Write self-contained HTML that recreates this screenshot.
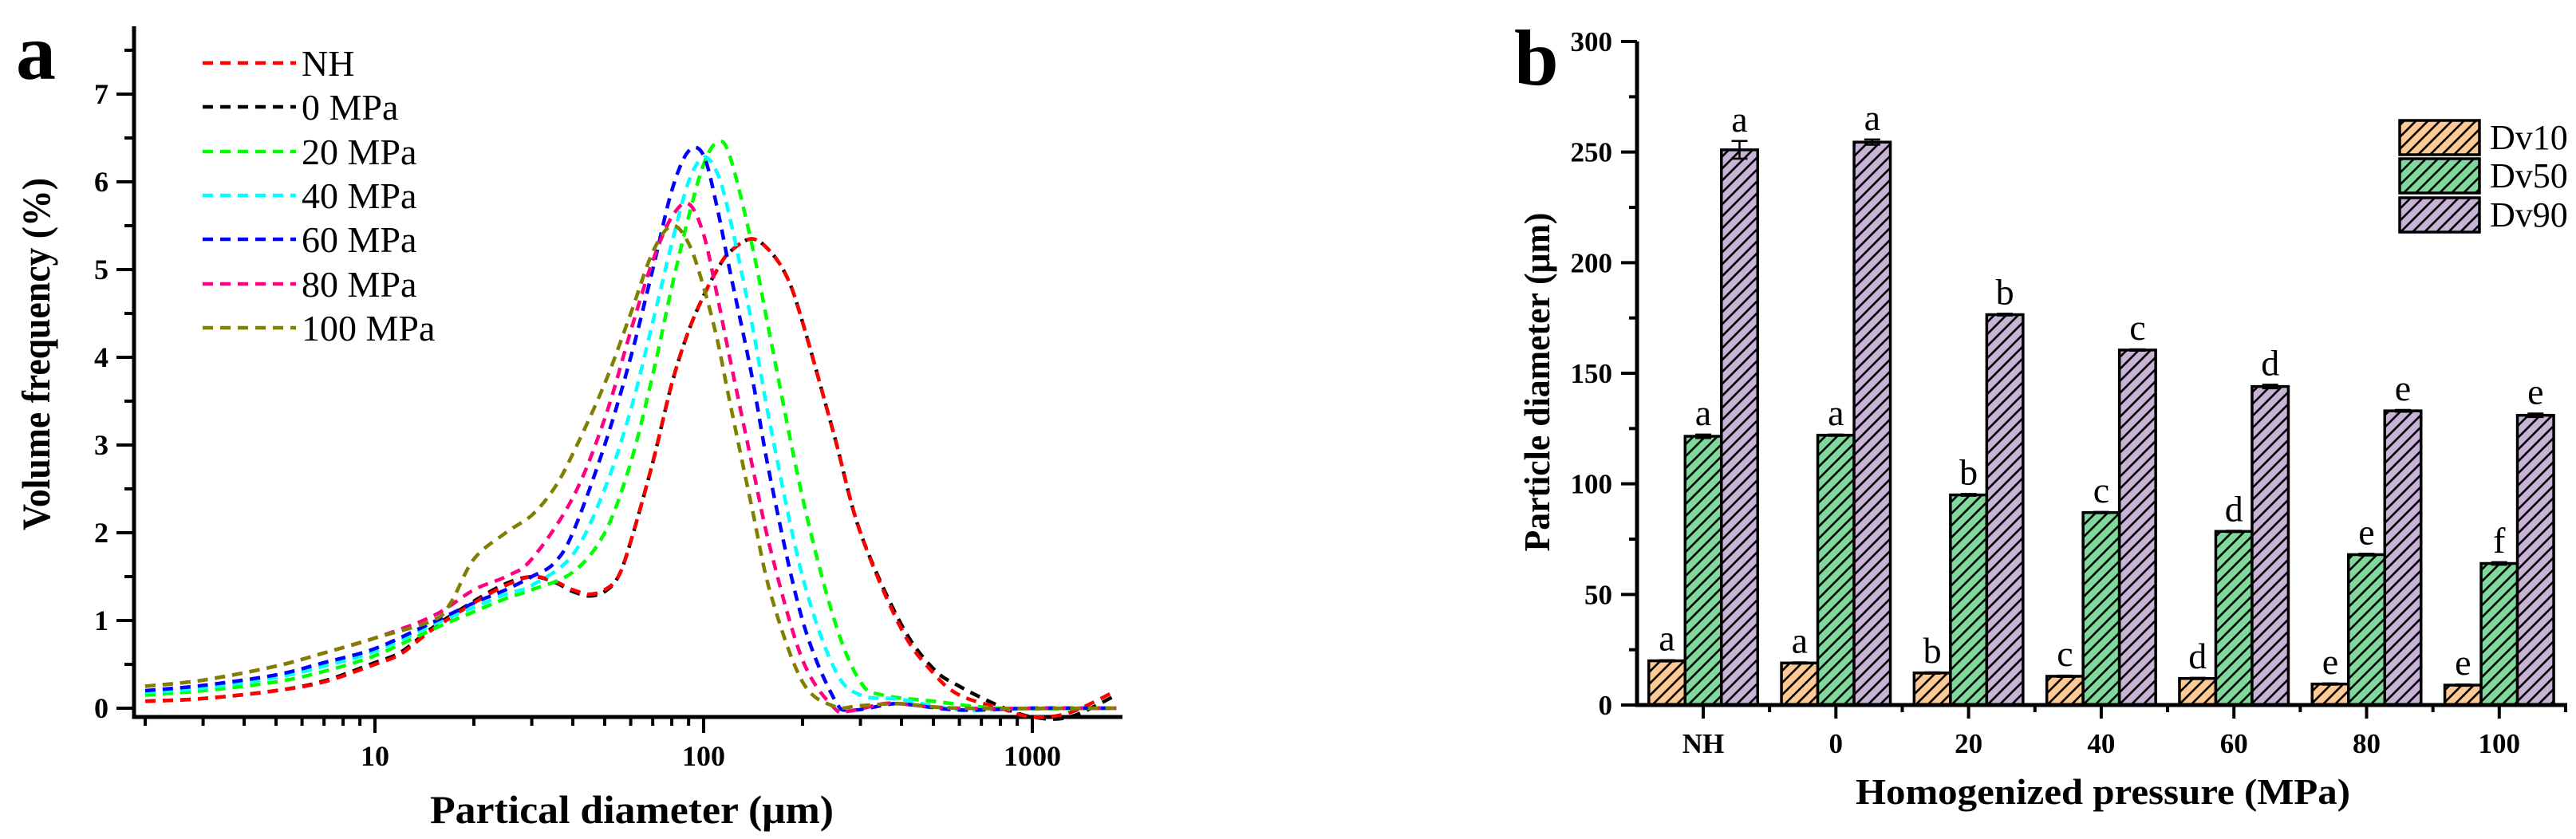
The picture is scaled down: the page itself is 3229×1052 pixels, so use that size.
<!DOCTYPE html>
<html><head><meta charset="utf-8"><style>
html,body{margin:0;padding:0;background:#fff;}
svg{display:block;font-family:"Liberation Serif",serif;}
</style></head><body>
<svg id="fig" xmlns="http://www.w3.org/2000/svg" width="3229" height="1052" viewBox="0 0 3229 1052">
<defs>
<pattern id="hatch" patternUnits="userSpaceOnUse" width="15" height="15">
<path d="M-2,17 L17,-2 M-2,2 L2,-2 M13,17 L17,13" stroke="#000" stroke-width="2.6"/>
</pattern>
</defs>
<g id="left"></g>
<g id="right"></g>
</svg>
<script>
// ---------- Panel a data ----------
const seriesNames = ["0 MPa","NH","20 MPa","40 MPa","60 MPa","80 MPa","100 MPa"];
const legendOrder = ["NH","0 MPa","20 MPa","40 MPa","60 MPa","80 MPa","100 MPa"];
const seriesColors = {"NH":"#ff0000","0 MPa":"#000000","20 MPa":"#00ff00","40 MPa":"#00ffff","60 MPa":"#0000ff","80 MPa":"#ff0080","100 MPa":"#808000"};
const xNH = [2,3,5,7,10,12,15,20,25,30,35,40,45,50,55,60,70,80,90,100,110,120,140,160,180,200,250,300,400,500,600,800,1000,1300,1800];
const yNH = [0.08,0.11,0.2,0.3,0.5,0.62,0.9,1.2,1.4,1.5,1.45,1.35,1.3,1.35,1.5,1.9,2.8,3.7,4.3,4.7,5.0,5.2,5.35,5.2,4.9,4.4,3.1,2.0,0.9,0.4,0.15,0.0,-0.1,-0.05,0.2];
const x0 = [2,3,5,7,10,12,15,20,25,30,35,40,45,50,55,60,70,80,90,100,110,120,140,160,180,200,250,300,400,500,600,800,1000,1300,1800];
const y0 = [0.08,0.11,0.2,0.31,0.52,0.64,0.92,1.22,1.42,1.5,1.44,1.33,1.28,1.33,1.5,1.9,2.8,3.7,4.3,4.7,5.0,5.2,5.35,5.2,4.9,4.4,3.1,2.0,0.95,0.45,0.25,0.02,-0.1,-0.1,0.15];
const x20 = [2,3,5,7,10,15,20,25,30,40,50,60,70,80,90,100,110,120,140,160,200,250,300,350,500,800,1800];
const y20 = [0.15,0.2,0.3,0.42,0.6,0.9,1.1,1.25,1.35,1.55,2.0,2.8,3.8,4.8,5.6,6.2,6.45,6.3,5.3,4.2,2.4,1.0,0.3,0.15,0.08,0.0,0.0];
const x40 = [2,3,5,7,10,15,20,25,30,40,50,60,70,80,90,100,110,120,140,160,200,250,300,400,600,1000,1800];
const y40 = [0.18,0.23,0.35,0.48,0.65,0.95,1.15,1.3,1.4,1.75,2.5,3.4,4.4,5.3,6.0,6.28,6.1,5.6,4.4,3.2,1.5,0.45,0.15,0.1,-0.02,0.0,0.0];
const x60 = [2,3,5,7,10,15,20,25,30,35,40,50,60,70,80,90,100,110,120,140,160,200,250,280,350,400,600,1000,1800];
const y60 = [0.2,0.26,0.38,0.52,0.68,0.98,1.2,1.35,1.5,1.65,2.0,3.0,4.0,5.0,5.9,6.35,6.3,5.7,5.0,3.8,2.6,1.0,0.1,-0.02,0.03,0.05,-0.02,0.0,0.0];
const x80 = [2,3,5,7,10,15,20,25,30,40,50,60,70,80,90,100,110,120,140,160,200,250,280,350,400,600,1800];
const y80 = [0.25,0.32,0.48,0.63,0.8,1.05,1.35,1.5,1.7,2.4,3.3,4.3,5.1,5.6,5.75,5.4,4.7,4.0,2.8,1.8,0.55,0.0,-0.03,0.05,0.05,0.0,0.0];
const x100 = [2,3,5,7,10,15,17,20,25,30,35,40,50,60,70,80,90,100,110,120,140,160,200,250,300,400,600,1800];
const y100 = [0.25,0.32,0.48,0.63,0.8,1.0,1.2,1.7,2.0,2.2,2.5,2.9,3.7,4.5,5.2,5.5,5.3,4.8,4.2,3.5,2.3,1.3,0.3,0.02,0.03,0.05,0.0,0.0];
const seriesX = {"NH":xNH,"0 MPa":x0,"20 MPa":x20,"40 MPa":x40,"60 MPa":x60,"80 MPa":x80,"100 MPa":x100};
const seriesY = {"NH":yNH,"0 MPa":y0,"20 MPa":y20,"40 MPa":y40,"60 MPa":y60,"80 MPa":y80,"100 MPa":y100};
const yTicksA = [0,1,2,3,4,5,6,7];
const xTicksA = [10,100,1000];

// ---------- Panel b data ----------
const categories = ["NH","0","20","40","60","80","100"];
const barSeries = ["Dv10","Dv50","Dv90"];
const barColors = {"Dv10":"#ffc993","Dv50":"#7fd99c","Dv90":"#c8b2d6"};
const dv10 = [20,19,14.5,13,12,9.5,9];
const dv50 = [121.5,122,95,87,78.5,68,64];
const dv90 = [251,254.5,176.5,160.5,144,133,131];
const err10 = [0.3,0.3,0.3,0.3,0.3,0.3,0.3];
const err50 = [0.8,0.3,0.4,0.3,0.3,0.4,0.6];
const err90 = [4,1.2,0.4,0.3,0.8,0.4,0.8];
const sig10 = ["a","a","b","c","d","e","e"];
const sig50 = ["a","a","b","c","d","e","f"];
const sig90 = ["a","a","b","c","d","e","e"];
const yTicksB = [0,50,100,150,200,250,300];

const NS="http://www.w3.org/2000/svg";
function mk(parent,tag,attrs,text){const e=document.createElementNS(NS,tag);for(const k in attrs)e.setAttribute(k,attrs[k]);if(text!==undefined)e.textContent=text;parent.appendChild(e);return e;}

// ===== Panel a =====
const L=document.getElementById('left');
const axL=168, axB=899, axR=1407, axT=33;
const xA = v => 470 + (Math.log10(v)-1)*412;
const yA = v => 888 - v*110;
let t;
t=mk(L,'text',{x:20,y:99,'font-size':100,'font-weight':'bold'},'a');


// axes
t=mk(L,'path',{d:`M${axL},${axT} V${axB} H${axR}`,fill:'none',stroke:'#000','stroke-width':5});


// y ticks
for(let v=0; v<=7.5; v+=0.5){
  const major = Math.abs(v-Math.round(v))<1e-6;
  mk(L,'line',{x1:axL,x2:axL-(major?22:12),y1:yA(v),y2:yA(v),stroke:'#000','stroke-width':4});
}
yTicksA.forEach(v=>{
  t=mk(L,'text',{x:136,y:yA(v)+12,'font-size':36,'font-weight':'bold','text-anchor':'end'},String(v));
  
  
});
// x ticks
[2,3,4,5,6,7,8,9,10,20,30,40,50,60,70,80,90,100,200,300,400,500,600,700,800,900,1000].forEach(v=>{
  const major = xTicksA.includes(v);
  mk(L,'line',{x1:xA(v),x2:xA(v),y1:axB,y2:axB+(major?20:11),stroke:'#000','stroke-width':4});
});
xTicksA.forEach(v=>{
  t=mk(L,'text',{x:xA(v),y:960,'font-size':36,'font-weight':'bold','text-anchor':'middle'},String(v));
  
  
});
t=mk(L,'text',{x:792,y:1032,'font-size':50,'font-weight':'bold','text-anchor':'middle',textLength:506,lengthAdjust:'spacingAndGlyphs'},'Partical diameter (\u03bcm)');


t=mk(L,'text',{x:0,y:0,'font-size':50,'font-weight':'bold','text-anchor':'middle',textLength:442,lengthAdjust:'spacingAndGlyphs',transform:'translate(62,444) rotate(-90)'},'Volume frequency (%)');


// curves
function smoothPath(pts){
  let d=`M${pts[0][0].toFixed(1)},${pts[0][1].toFixed(1)}`;
  for(let i=0;i<pts.length-1;i++){
    const p0=pts[Math.max(0,i-1)],p1=pts[i],p2=pts[i+1],p3=pts[Math.min(pts.length-1,i+2)];
    const c1=[p1[0]+(p2[0]-p0[0])/6,p1[1]+(p2[1]-p0[1])/6];
    const c2=[p2[0]-(p3[0]-p1[0])/6,p2[1]-(p3[1]-p1[1])/6];
    d+=` C${c1[0].toFixed(1)},${c1[1].toFixed(1)} ${c2[0].toFixed(1)},${c2[1].toFixed(1)} ${p2[0].toFixed(1)},${p2[1].toFixed(1)}`;
  }
  return d;
}
seriesNames.forEach(n=>{
  const xs=seriesX[n], ys=seriesY[n];
  const pts=xs.map((x,i)=>[xA(x),yA(ys[i])]);
  t=mk(L,'path',{d:smoothPath(pts),fill:'none',stroke:seriesColors[n],'stroke-width':4.5,'stroke-dasharray':'13 9'});
  
  
});
// legend
const legRows=[79,134,190,245,300,356,411];
legendOrder.forEach((n,i)=>{
  const g=mk(L,'g',{});
  
  
  mk(g,'line',{x1:254,x2:371,y1:legRows[i],y2:legRows[i],stroke:seriesColors[n],'stroke-width':4.5,'stroke-dasharray':'13 9'});
  mk(g,'text',{x:378,y:legRows[i]+16,'font-size':46},n);
});

// ===== Panel b =====
const R=document.getElementById('right');
const bL=2052, bB=884, bR=3218, bT=52;
const yB = v => bB - v*(832/300);
const xB = i => 2135 + i*166.3;
const bw=45.5;
t=mk(R,'text',{x:1898,y:106,'font-size':100,'font-weight':'bold'},'b');


const vals={"Dv10":dv10,"Dv50":dv50,"Dv90":dv90};
const errs={"Dv10":err10,"Dv50":err50,"Dv90":err90};
const sigs={"Dv10":sig10,"Dv50":sig50,"Dv90":sig90};
categories.forEach((c,i)=>{
  barSeries.forEach((s,j)=>{
    const v=vals[s][i];
    const x0b=xB(i)-1.5*bw+j*bw;
    const y=yB(v);
    t=mk(R,'rect',{x:x0b,y:y,width:bw,height:bB-y,fill:barColors[s]});
    
    
    mk(R,'rect',{x:x0b,y:y,width:bw,height:bB-y,fill:'url(#hatch)',stroke:'#000','stroke-width':3.5});
    const e=errs[s][i], cx=x0b+bw/2;
    mk(R,'path',{d:`M${cx-10},${yB(v+e)} H${cx+10} M${cx},${yB(v+e)} V${yB(v-e)} M${cx-10},${yB(v-e)} H${cx+10}`,stroke:'#000','stroke-width':2.5,fill:'none'});
    t=mk(R,'text',{x:cx,y:yB(v+e)-12,'font-size':46,'text-anchor':'middle'},sigs[s][i]);
    
    
  });
});
t=mk(R,'path',{d:`M${bL},${bT} V${bB} H${bR}`,fill:'none',stroke:'#000','stroke-width':5});


for(let v=0; v<=300; v+=25){
  const major=v%50===0;
  mk(R,'line',{x1:bL,x2:bL-(major?20:10),y1:yB(v),y2:yB(v),stroke:'#000','stroke-width':4});
}
yTicksB.forEach(v=>{
  t=mk(R,'text',{x:2021,y:yB(v)+12,'font-size':35,'font-weight':'bold','text-anchor':'end'},String(v));
  
  
});
categories.forEach((c,i)=>{
  mk(R,'line',{x1:xB(i),x2:xB(i),y1:bB,y2:bB+17,stroke:'#000','stroke-width':4});
  mk(R,'line',{x1:xB(i)+83.15,x2:xB(i)+83.15,y1:bB,y2:bB+9,stroke:'#000','stroke-width':4});
  t=mk(R,'text',{x:xB(i),y:944,'font-size':35,'font-weight':'bold','text-anchor':'middle'},c);
  
  
});
t=mk(R,'text',{x:2636,y:1008,'font-size':46,'font-weight':'bold','text-anchor':'middle',textLength:620,lengthAdjust:'spacingAndGlyphs'},'Homogenized pressure (MPa)');


t=mk(R,'text',{x:0,y:0,'font-size':46,'font-weight':'bold','text-anchor':'middle',textLength:425,lengthAdjust:'spacingAndGlyphs',transform:'translate(1942,479) rotate(-90)'},'Particle diameter (\u03bcm)');


// legend
const legY=[151,199,248];
barSeries.forEach((s,j)=>{
  const g=mk(R,'g',{});
  
  
  mk(g,'rect',{x:3008,y:legY[j],width:100,height:43,fill:barColors[s]});
  mk(g,'rect',{x:3008,y:legY[j],width:100,height:43,fill:'url(#hatch)',stroke:'#000','stroke-width':3.5});
  mk(g,'text',{x:3121,y:legY[j]+36,'font-size':44},s);
});
</script>
</body></html>
